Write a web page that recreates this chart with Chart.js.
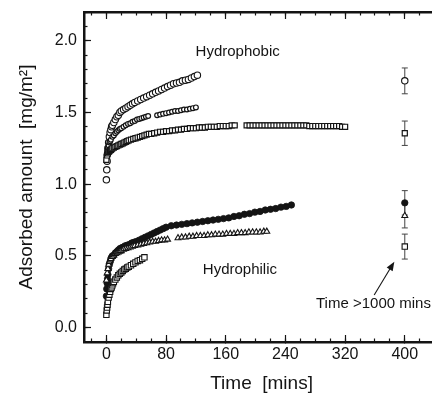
<!DOCTYPE html>
<html>
<head>
<meta charset="utf-8">
<script src="https://cdn.jsdelivr.net/npm/chart.js@4/dist/chart.umd.min.js"></script>
<style>
html,body{margin:0;padding:0;background:#fff;}
#wrap{width:432px;height:394px;overflow:hidden;position:relative;}
</style>
</head>
<body>
<div id="wrap"><canvas id="c" width="444" height="394"></canvas></div>
<script>
// ---------- DATA ----------
// Hydrophobic surface
const phobicCircleT = [0,0.5,1,1.5,2,3,4,5,6,7,8,10,12,14,16,18,20,23,26,29,32,35,38,42,46,50,54,58,62,66,70,74,78,82,86,90,94,98,102,106,110,114,118,122];
const phobicCircleY = [1.03,1.10,1.16,1.21,1.25,1.29,1.33,1.36,1.38,1.40,1.41,1.43,1.45,1.47,1.48,1.50,1.51,1.52,1.53,1.54,1.55,1.56,1.57,1.58,1.59,1.60,1.61,1.62,1.63,1.64,1.65,1.66,1.67,1.68,1.69,1.70,1.705,1.71,1.72,1.725,1.73,1.74,1.75,1.76];

const phobicSmallT = [0,1,2,3,4,5,6,8,10,12,14,16,18,20,23,26,29,32,35,38,41,44,47,50,53,56,68,72,76,80,84,88,92,96,100,104,108,112,116,120];
const phobicSmallY = [1.20,1.23,1.25,1.27,1.29,1.30,1.31,1.33,1.34,1.355,1.365,1.375,1.385,1.39,1.40,1.41,1.42,1.425,1.435,1.44,1.45,1.455,1.46,1.465,1.47,1.475,1.48,1.485,1.49,1.495,1.50,1.505,1.51,1.51,1.515,1.52,1.52,1.525,1.53,1.535];

const phobicSquareT = [0,1,2,3,4,5,6,7,8,10,12,14,16,18,20,22,24,26,28,30,33,36,39,42,45,48,51,54,57,60,64,68,72,76,80,84,88,92,96,100,104,108,112,116,120,124,128,132,136,140,144,148,152,156,160,164,168,172,188,192,196,200,204,208,212,216,220,224,228,232,236,240,244,248,252,256,260,264,268,272,276,280,284,288,292,296,300,304,308,312,316,320];
const phobicSquareY = [1.17,1.20,1.215,1.225,1.23,1.235,1.24,1.245,1.25,1.255,1.26,1.265,1.27,1.275,1.28,1.285,1.29,1.295,1.30,1.305,1.31,1.315,1.32,1.325,1.33,1.335,1.34,1.345,1.35,1.35,1.355,1.36,1.365,1.365,1.37,1.37,1.375,1.375,1.38,1.38,1.385,1.385,1.39,1.39,1.39,1.395,1.395,1.395,1.40,1.40,1.40,1.40,1.405,1.405,1.405,1.405,1.41,1.41,1.41,1.41,1.41,1.41,1.41,1.41,1.41,1.41,1.41,1.41,1.41,1.41,1.41,1.41,1.41,1.41,1.41,1.41,1.41,1.41,1.41,1.405,1.405,1.405,1.405,1.405,1.405,1.405,1.405,1.405,1.405,1.405,1.40,1.40];

// Hydrophilic surface
const philicFilledT = [0,0.5,1,1.5,2,3,4,5,6,7,8,10,12,14,16,18,20,22,25,28,31,34,37,40,44,48,52,56,60,64,68,72,76,80,87,94,101,108,115,122,129,136,143,150,157,164,171,178,185,192,199,206,213,220,227,234,241,248];
const philicFilledY = [0.22,0.27,0.31,0.34,0.37,0.41,0.44,0.46,0.48,0.49,0.50,0.505,0.52,0.53,0.54,0.55,0.555,0.56,0.57,0.575,0.58,0.59,0.595,0.60,0.61,0.62,0.63,0.64,0.65,0.66,0.67,0.68,0.69,0.70,0.71,0.715,0.72,0.725,0.73,0.735,0.74,0.745,0.75,0.755,0.76,0.765,0.775,0.78,0.79,0.795,0.805,0.81,0.82,0.825,0.83,0.84,0.845,0.855];

const philicTriangleT = [0,1,2,3,4,5,6,8,10,12,14,16,18,20,23,26,29,32,35,38,42,46,50,54,58,62,66,70,74,78,82,96,101,106,111,116,121,126,131,136,141,146,151,156,161,166,171,176,181,186,191,196,201,206,211,215];
const philicTriangleY = [0.33,0.38,0.41,0.44,0.46,0.47,0.48,0.495,0.505,0.515,0.52,0.525,0.53,0.535,0.545,0.55,0.555,0.56,0.565,0.57,0.575,0.58,0.585,0.59,0.595,0.60,0.60,0.605,0.61,0.61,0.615,0.625,0.63,0.63,0.635,0.635,0.64,0.64,0.64,0.645,0.645,0.65,0.65,0.65,0.655,0.655,0.655,0.66,0.66,0.66,0.665,0.665,0.665,0.665,0.67,0.67];

const philicSquareT = [0,0.5,1,1.5,2,3,4,5,6,7,8,9,10,12,14,16,18,20,22,24,26,28,30,33,36,39,42,45,48,51];
const philicSquareY = [0.09,0.12,0.14,0.16,0.18,0.21,0.23,0.25,0.27,0.28,0.295,0.31,0.32,0.335,0.35,0.365,0.375,0.385,0.395,0.405,0.41,0.42,0.425,0.435,0.445,0.455,0.465,0.47,0.48,0.49];

// Long-time (>1000 min) values plotted at t = 400, with error bars
const longTime = 400;
const longNames  = ['phobicCircle','phobicSquare','philicFilled','philicTriangle','philicSquare'];
const longValues = [1.72, 1.355, 0.87, 0.78, 0.565];
const longErrors = [0.09, 0.085, 0.085, 0.085, 0.087];

// Tick labels
const xMajorTicks = [0,80,160,240,320,400];
const yMajorTicks = [0.0,0.5,1.0,1.5,2.0];

// Annotations
const labelPhobic = 'Hydrophobic';
const labelPhilic = 'Hydrophilic';
const labelLong = 'Time >1000 mins';
const xTitle = 'Time  [mins]';
const yTitle = 'Adsorbed amount  [mg/m\u00B2]';

// ---------- BUILD ----------
const FONT = "'Liberation Sans', Arial, Helvetica, sans-serif";
const INK = '#141414';
function pts(t, y) { return t.map((v, i) => ({x: v, y: y[i]})); }
function withLong(name, arr) {
  const i = longNames.indexOf(name);
  if (i >= 0) arr.push({x: longTime, y: longValues[i], err: longErrors[i]});
  return arr;
}
const X_MIN = -30, X_MAX = 446, Y_MIN = -0.1, Y_MAX = 2.2;
const xMinorTicks = []; for (let v = -20; v <= 440; v += 20) xMinorTicks.push(v);
const yMinorTicks = []; for (let k = 0; k <= 22; k++) yMinorTicks.push(k / 10);

const datasets = [
  {label:'phobicSquare', data: withLong('phobicSquare', pts(phobicSquareT, phobicSquareY)), pointStyle:'rect', pointRadius:3.6, borderWidth:1.2, borderColor:INK, backgroundColor:'#ffffff'},
  {label:'phobicSmall', data: pts(phobicSmallT, phobicSmallY), pointStyle:'circle', pointRadius:2.4, borderWidth:1.2, borderColor:INK, backgroundColor:'#ffffff'},
  {label:'phobicCircle', data: withLong('phobicCircle', pts(phobicCircleT, phobicCircleY)), pointStyle:'circle', pointRadius:3.2, borderWidth:1.1, borderColor:INK, backgroundColor:'#ffffff'},
  {label:'philicSquare', data: withLong('philicSquare', pts(philicSquareT, philicSquareY)), pointStyle:'rect', pointRadius:3.8, borderWidth:1.1, borderColor:INK, backgroundColor:'#ffffff'},
  {label:'philicTriangle', data: withLong('philicTriangle', pts(philicTriangleT, philicTriangleY)), pointStyle:'triangle', pointRadius:3.4, borderWidth:1.1, borderColor:INK, backgroundColor:'#ffffff'},
  {label:'philicFilled', data: withLong('philicFilled', pts(philicFilledT, philicFilledY)), pointStyle:'circle', pointRadius:3.2, borderWidth:0.8, borderColor:INK, backgroundColor:INK},
].map(d => Object.assign({showLine:false, xAxisID:'x', yAxisID:'y', pointHoverRadius:d.pointRadius}, d));

const errorBars = {
  id: 'errorBars',
  beforeDatasetsDraw(chart) {
    const {ctx, scales:{x, y}} = chart;
    ctx.save();
    ctx.strokeStyle = '#444';
    ctx.lineWidth = 1;
    chart.data.datasets.forEach(ds => {
      ds.data.forEach(p => {
        if (p.err === undefined) return;
        const px = x.getPixelForValue(p.x);
        const top = y.getPixelForValue(p.y + p.err);
        const bot = y.getPixelForValue(p.y - p.err);
        ctx.beginPath();
        ctx.moveTo(px, top); ctx.lineTo(px, bot);
        ctx.moveTo(px - 3, top); ctx.lineTo(px + 3, top);
        ctx.moveTo(px - 3, bot); ctx.lineTo(px + 3, bot);
        ctx.stroke();
      });
    });
    ctx.restore();
  }
};

const annotations = {
  id: 'annotations',
  afterDraw(chart) {
    const {ctx, scales:{x, y}} = chart;
    ctx.save();
    ctx.fillStyle = INK;
    ctx.font = '15px ' + FONT;
    ctx.textBaseline = 'middle';
    ctx.textAlign = 'center';
    ctx.fillText(labelPhobic, x.getPixelForValue(176), y.getPixelForValue(1.92));
    ctx.fillText(labelPhilic, x.getPixelForValue(179), y.getPixelForValue(0.40));
    ctx.textAlign = 'left';
    ctx.textBaseline = 'alphabetic';
    ctx.fillText(labelLong, x.getPixelForValue(281), y.getPixelForValue(0.137));
    // arrow
    const x0 = x.getPixelForValue(359), y0 = y.getPixelForValue(0.228);
    const x1 = x.getPixelForValue(386), y1 = y.getPixelForValue(0.46);
    const ang = Math.atan2(y1 - y0, x1 - x0);
    ctx.strokeStyle = INK; ctx.lineWidth = 1.1;
    ctx.beginPath(); ctx.moveTo(x0, y0);
    ctx.lineTo(x1 - 6 * Math.cos(ang), y1 - 6 * Math.sin(ang)); ctx.stroke();
    ctx.beginPath();
    ctx.moveTo(x1, y1);
    ctx.lineTo(x1 - 9 * Math.cos(ang) + 3.5 * Math.sin(ang), y1 - 9 * Math.sin(ang) - 3.5 * Math.cos(ang));
    ctx.lineTo(x1 - 9 * Math.cos(ang) - 3.5 * Math.sin(ang), y1 - 9 * Math.sin(ang) + 3.5 * Math.cos(ang));
    ctx.closePath(); ctx.fill();
    ctx.restore();
  }
};

const tickFont = {family: FONT, size: 16};
const noGrid = (len) => ({drawOnChartArea:false, drawTicks:true, tickLength:len, color:INK, tickColor:INK, tickWidth:1.2});
const setTicks = (vals) => (s) => { s.ticks = vals.map(v => ({value: v})); };
const fitH = (h) => (s) => { s.height = h; s.paddingLeft = 0; s.paddingRight = 0; };
const fitW = (w) => (s) => { s.width = w; s.paddingTop = 0; s.paddingBottom = 0; };

new Chart(document.getElementById('c'), {
  type: 'scatter',
  data: {datasets},
  options: {
    responsive: false,
    animation: false,
    events: [],
    layout: {padding: {top: 12, right: 1, left: 0, bottom: 0}},
    plugins: {legend: {display: false}, tooltip: {enabled: false}},
    scales: {
      x: {
        type: 'linear', position: 'bottom', min: X_MIN, max: X_MAX, weight: 1,
        afterFit: fitH(52),
        afterBuildTicks: setTicks(xMajorTicks),
        grid: noGrid(-7),
        border: {display: true, color: INK, width: 2.5},
        ticks: {font: tickFont, color: INK, padding: 10, autoSkip: false, maxRotation: 0, callback: v => String(v)},
        title: {display: true, text: xTitle, color: INK, font: {family: FONT, size: 19, lineHeight: 1}, padding: {top: 0, bottom: 1}}
      },
      xMinor: {
        type: 'linear', position: 'bottom', min: X_MIN, max: X_MAX, weight: 0,
        afterFit: fitH(0),
        afterBuildTicks: setTicks(xMinorTicks),
        grid: noGrid(-3.5),
        border: {display: false},
        ticks: {display: false, autoSkip: false}
      },
      xTop: {
        type: 'linear', position: 'top', min: X_MIN, max: X_MAX, weight: 1,
        afterFit: fitH(0),
        afterBuildTicks: setTicks(xMajorTicks),
        grid: noGrid(-7),
        border: {display: true, color: INK, width: 2.5},
        ticks: {display: false, autoSkip: false}
      },
      xTopMinor: {
        type: 'linear', position: 'top', min: X_MIN, max: X_MAX, weight: 0,
        afterFit: fitH(0),
        afterBuildTicks: setTicks(xMinorTicks),
        grid: noGrid(-3.5),
        border: {display: false},
        ticks: {display: false, autoSkip: false}
      },
      y: {
        type: 'linear', position: 'left', min: Y_MIN, max: Y_MAX, weight: 1,
        afterFit: fitW(84),
        afterBuildTicks: setTicks(yMajorTicks),
        grid: noGrid(-7),
        border: {display: true, color: INK, width: 2.5},
        ticks: {font: tickFont, color: INK, padding: 14, autoSkip: false, callback: v => Number(v).toFixed(1)},
        title: {display: true, text: yTitle, color: INK, font: {family: FONT, size: 19, lineHeight: 1}, padding: {top: 17, bottom: 0}}
      },
      yMinor: {
        type: 'linear', position: 'left', min: Y_MIN, max: Y_MAX, weight: 0,
        afterFit: fitW(0),
        afterBuildTicks: setTicks(yMinorTicks),
        grid: noGrid(-3.5),
        border: {display: false},
        ticks: {display: false, autoSkip: false}
      }
    }
  },
  plugins: [errorBars, annotations]
});
</script>
</body>
</html>
